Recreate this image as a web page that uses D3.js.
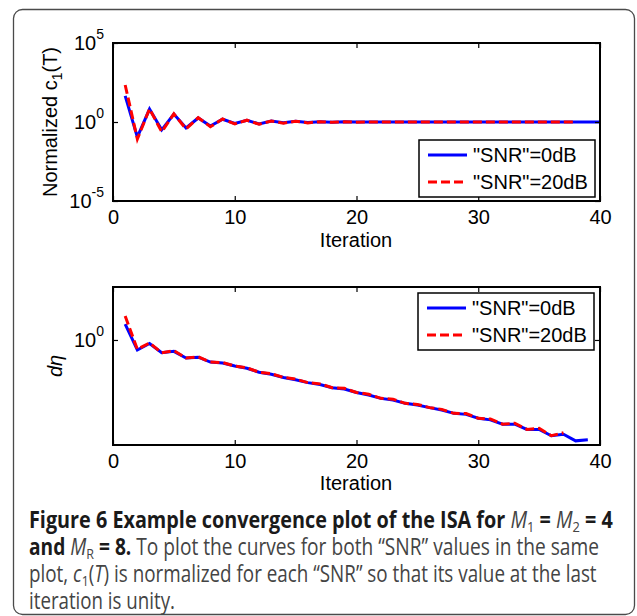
<!DOCTYPE html>
<html>
<head>
<meta charset="utf-8">
<script src="https://cdn.jsdelivr.net/npm/d3@7"></script>
<style>
  body { margin: 0; background: #fff; }
  #chart { width: 637px; height: 616px; }
</style>
</head>
<body>
<div id="chart"></div>
<script>
// iteration numbers (x values)
const iterations = [1, 2, 3, 4, 5, 6, 7, 8, 9, 10, 11, 12, 13, 14, 15, 16, 17, 18, 19, 20,
    21, 22, 23, 24, 25, 26, 27, 28, 29, 30, 31, 32, 33, 34, 35, 36, 37, 38, 39, 40];

// top panel: normalized c1(T)
const c1Snr0 = [45, 0.11, 6.6, 0.32, 3.2, 0.42, 1.8, 0.56, 1.5, 0.8, 1.3, 0.76, 1.15, 0.89, 1.1, 0.93,
    1.04, 0.97, 1.02, 0.99, 1.01, 1, 1, 1, 1, 1, 1, 1, 1, 1, 1, 1, 1, 1, 1, 1, 1, 1, 1, 1];
const c1Snr20 = [220, 0.083, 6.8, 0.24, 3.3, 0.36, 1.9, 0.5, 1.55, 0.75, 1.3, 0.72, 1.15, 0.85, 1.12, 0.88,
    1.05, 0.95, 1.02, 0.98, 1.01, 0.99, 1, 1, 1, 1, 1, 1, 1, 1, 1, 1, 1, 1, 1, 1, 1, 1];

// bottom panel: d-eta
const dEtaSnr0 = [1.32, 0.84, 0.94, 0.80, 0.82, 0.73, 0.74, 0.68, 0.67, 0.635, 0.61, 0.57, 0.55, 0.52,
    0.50, 0.475, 0.46, 0.435, 0.425, 0.40, 0.383, 0.361, 0.351, 0.331, 0.322, 0.307, 0.295, 0.278,
    0.273, 0.255, 0.248, 0.23, 0.23, 0.21, 0.21, 0.188, 0.193, 0.172, 0.175];
const dEtaSnr20 = [1.52, 0.85, 0.95, 0.80, 0.83, 0.73, 0.745, 0.68, 0.675, 0.635, 0.615, 0.57, 0.555, 0.52,
    0.505, 0.475, 0.465, 0.435, 0.43, 0.40, 0.388, 0.361, 0.356, 0.331, 0.325, 0.307, 0.298, 0.278,
    0.277, 0.255, 0.252, 0.23, 0.234, 0.21, 0.214, 0.188, 0.198];

// tick labels
const xTicks = [0, 10, 20, 30, 40];
const topYTicks = [1e-5, 1, 1e5];
const bottomYTicks = [1];
const legendLabels = ['"SNR"=0dB', '"SNR"=20dB'];

const axisFont = '"Liberation Sans", Arial, Helvetica, sans-serif';

function drawChart() {
    const width = 637, height = 616;

    const svg = d3.select('#chart')
        .append('svg')
        .attr('width', width)
        .attr('height', height)
        .style('background', '#fff');

    // outer rounded frame
    svg.append('rect')
        .attr('x', 13.5).attr('y', 9.5)
        .attr('width', 621).attr('height', 605)
        .attr('rx', 9)
        .attr('fill', 'none')
        .attr('stroke', '#4a4a4a')
        .attr('stroke-width', 1.3);

    const x = d3.scaleLinear().domain([0, 40]).range([113, 600]);

    function panel(opts) {
        const y = opts.y;
        const [y0, y1] = y.range();
        const g = svg.append('g').attr('font-family', axisFont);

        // curves
        const line = d3.line()
            .x((d, i) => x(iterations[i]))
            .y(d => y(d));

        g.append('path')
            .datum(opts.blue)
            .attr('fill', 'none')
            .attr('stroke', '#0000ff')
            .attr('stroke-width', 3)
            .attr('d', line);

        g.append('path')
            .datum(opts.red)
            .attr('fill', 'none')
            .attr('stroke', '#ff0000')
            .attr('stroke-width', 3)
            .attr('stroke-dasharray', '9,4')
            .attr('d', line);

        // axes (inward ticks)
        const xb = g.append('g')
            .attr('transform', `translate(0,${y0})`)
            .call(d3.axisBottom(x).tickValues(xTicks).tickSize(-5).tickPadding(9).tickFormat(d3.format('d')));
        g.append('g')
            .attr('transform', `translate(0,${y1})`)
            .call(d3.axisTop(x).tickValues(xTicks).tickSize(-5).tickFormat(''));
        const yl = g.append('g')
            .attr('transform', `translate(${x.range()[0]},0)`)
            .call(d3.axisLeft(y).tickValues(opts.yTicks).tickSize(-5).tickPadding(9).tickFormat(''));
        g.append('g')
            .attr('transform', `translate(${x.range()[1]},0)`)
            .call(d3.axisRight(y).tickValues(opts.yTicks).tickSize(-5).tickFormat(''));

        g.selectAll('.domain').remove();
        g.selectAll('.tick line').attr('stroke', '#000').attr('stroke-width', 1.2);

        xb.selectAll('text')
            .attr('font-size', 20)
            .attr('fill', '#000');

        // 10^n labels
        yl.selectAll('.tick text').each(function(d) {
            const t = d3.select(this)
                .attr('font-size', 20)
                .attr('fill', '#000');
            t.append('tspan').text('10');
            t.append('tspan')
                .attr('font-size', 14)
                .attr('dy', '-0.75em')
                .text(Math.round(Math.log10(d)));
        });

        // box
        g.append('rect')
            .attr('x', x.range()[0]).attr('y', y1)
            .attr('width', x.range()[1] - x.range()[0])
            .attr('height', y0 - y1)
            .attr('fill', 'none')
            .attr('stroke', '#000')
            .attr('stroke-width', 2);

        // x label
        g.append('text')
            .attr('x', 356)
            .attr('y', opts.xLabelY)
            .attr('text-anchor', 'middle')
            .attr('font-size', 20)
            .text('Iteration');

        // legend
        const lg = g.append('g').attr('transform', `translate(${opts.legend[0]},${opts.legend[1]})`);
        lg.append('rect')
            .attr('width', 176).attr('height', 57)
            .attr('fill', '#fff')
            .attr('stroke', '#000')
            .attr('stroke-width', 1.5);
        legendLabels.forEach((lab, i) => {
            const ly = 15 + i * 27;
            lg.append('line')
                .attr('x1', 9).attr('x2', 48)
                .attr('y1', ly).attr('y2', ly)
                .attr('stroke', i === 0 ? '#0000ff' : '#ff0000')
                .attr('stroke-width', 3)
                .attr('stroke-dasharray', i === 0 ? null : '9,4');
            lg.append('text')
                .attr('x', 54).attr('y', ly + 7)
                .attr('font-size', 20)
                .text(lab);
        });
        return g;
    }

    // top panel
    const top = panel({
        y: d3.scaleLog().domain([1e-5, 1e5]).range([201, 43]),
        yTicks: topYTicks,
        blue: c1Snr0,
        red: c1Snr20,
        xLabelY: 247,
        legend: [419, 140]
    });
    const yl1 = top.append('text')
        .attr('transform', 'translate(57,122) rotate(-90)')
        .attr('text-anchor', 'middle')
        .attr('font-size', 20);
    yl1.append('tspan').text('Normalized c');
    yl1.append('tspan').attr('font-size', 14).attr('dy', '0.35em').text('1');
    yl1.append('tspan').attr('dy', '-0.245em').text('(T)');

    // bottom panel
    const bottom = panel({
        y: d3.scaleLog().domain([0.16, 2.52]).range([445, 287]),
        yTicks: bottomYTicks,
        blue: dEtaSnr0,
        red: dEtaSnr20,
        xLabelY: 490,
        legend: [418, 293]
    });
    bottom.append('text')
        .attr('transform', 'translate(62,366) rotate(-90)')
        .attr('text-anchor', 'middle')
        .attr('font-size', 20)
        .attr('font-style', 'italic')
        .text('dη');

    // caption: each line squeezed horizontally to the reference width (condensed face)
    const cap = svg.append('g')
        .attr('font-family', '"Open Sans", "Noto Sans", sans-serif')
        .attr('font-size', 23)
        .attr('fill', '#444');

    function capLine(y, target) {
        return cap.append('text').attr('x', 0).attr('y', 0)
            .attr('data-y', y).attr('data-w', target);
    }

    const l1 = capLine(528, 584);
    l1.append('tspan').attr('font-weight', 'bold').attr('fill', '#1a1a1a')
        .text('Figure 6 Example convergence plot of the ISA for ');
    l1.append('tspan').attr('font-style', 'italic').text('M');
    l1.append('tspan').attr('font-size', 15).attr('dy', 4).text('1');
    l1.append('tspan').attr('dy', -4).attr('font-weight', 'bold').attr('fill', '#1a1a1a').text(' = ');
    l1.append('tspan').attr('font-style', 'italic').text('M');
    l1.append('tspan').attr('font-size', 15).attr('dy', 4).text('2');
    l1.append('tspan').attr('dy', -4).attr('font-weight', 'bold').attr('fill', '#1a1a1a').text(' = 4');

    const l2 = capLine(555, 570);
    l2.append('tspan').attr('font-weight', 'bold').attr('fill', '#1a1a1a').text('and ');
    l2.append('tspan').attr('font-style', 'italic').text('M');
    l2.append('tspan').attr('font-size', 15).attr('dy', 4).text('R');
    l2.append('tspan').attr('dy', -4).attr('font-weight', 'bold').attr('fill', '#1a1a1a').text(' = 8.');
    l2.append('tspan').text(' To plot the curves for both \u201cSNR\u201d values in the same');

    const l3 = capLine(582, 568);
    l3.append('tspan').text('plot, ');
    l3.append('tspan').attr('font-style', 'italic').text('c');
    l3.append('tspan').attr('font-size', 15).attr('dy', 4).text('1');
    l3.append('tspan').attr('dy', -4).text('(');
    l3.append('tspan').attr('font-style', 'italic').text('T');
    l3.append('tspan').text(') is normalized for each \u201cSNR\u201d so that its value at the last');

    capLine(609, 146).text('iteration is unity.');

    cap.selectAll('text').each(function() {
        const t = d3.select(this);
        const natural = this.getComputedTextLength();
        const s = +t.attr('data-w') / natural;
        t.attr('transform', `translate(29,${t.attr('data-y')}) scale(${s.toFixed(3)},1)`);
    });
}

drawChart();
</script>
</body>
</html>
